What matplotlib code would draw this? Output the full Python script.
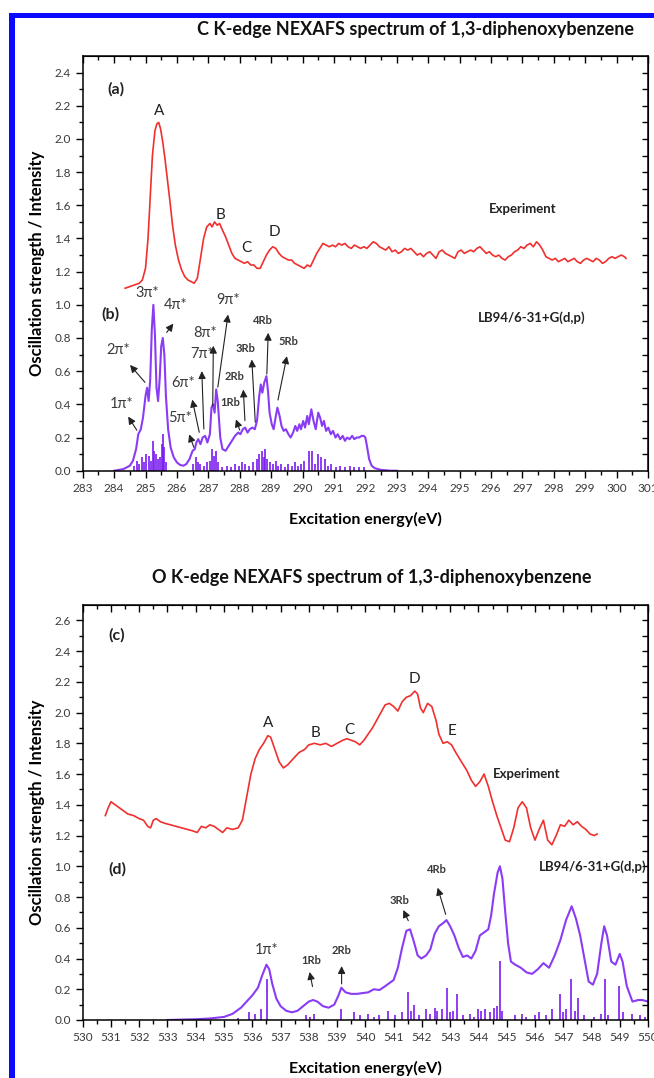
import matplotlib
matplotlib.use("Agg")
import matplotlib.pyplot as plt
import numpy as np
from matplotlib.patches import Rectangle

plt.rcParams['font.family'] = ['Lato', 'DejaVu Sans']

W, H = 654, 1078

# ---------------- C K-edge data ----------------
c_exp = [(284.35, 1.10), (284.5, 1.11), (284.65, 1.12), (284.8, 1.13), (284.9, 1.15), (285.0, 1.22),
         (285.08, 1.40), (285.15, 1.65), (285.22, 1.90), (285.3, 2.05), (285.36, 2.09), (285.42, 2.10),
         (285.48, 2.06), (285.55, 1.98), (285.62, 1.88), (285.7, 1.75), (285.78, 1.62), (285.86, 1.48),
         (285.95, 1.36), (286.05, 1.27), (286.15, 1.21), (286.25, 1.17), (286.35, 1.15), (286.45, 1.14),
         (286.55, 1.13), (286.65, 1.16), (286.75, 1.28), (286.85, 1.40), (286.95, 1.47), (287.05, 1.49),
         (287.12, 1.47), (287.2, 1.50), (287.28, 1.48), (287.36, 1.49), (287.45, 1.45), (287.55, 1.41),
         (287.65, 1.36), (287.75, 1.31), (287.85, 1.28), (287.95, 1.27), (288.05, 1.26), (288.15, 1.25),
         (288.25, 1.26), (288.35, 1.24), (288.45, 1.24), (288.55, 1.22), (288.65, 1.22), (288.75, 1.26),
         (288.85, 1.30), (288.95, 1.33), (289.05, 1.35), (289.15, 1.34), (289.25, 1.31), (289.35, 1.29),
         (289.45, 1.28), (289.55, 1.27), (289.65, 1.27), (289.75, 1.25), (289.85, 1.24), (289.95, 1.23),
         (290.05, 1.22), (290.15, 1.24), (290.25, 1.23), (290.35, 1.27), (290.45, 1.31), (290.55, 1.34),
         (290.65, 1.37), (290.75, 1.36), (290.85, 1.35), (290.95, 1.36), (291.05, 1.35), (291.15, 1.37),
         (291.25, 1.36), (291.35, 1.37), (291.45, 1.35), (291.55, 1.34), (291.65, 1.36), (291.75, 1.35),
         (291.85, 1.34), (291.95, 1.35), (292.05, 1.34), (292.15, 1.36), (292.25, 1.38), (292.35, 1.37),
         (292.45, 1.35), (292.55, 1.34), (292.65, 1.33), (292.75, 1.35), (292.85, 1.32), (292.95, 1.33),
         (293.05, 1.31), (293.15, 1.32), (293.25, 1.34), (293.35, 1.33), (293.45, 1.34), (293.55, 1.32),
         (293.65, 1.30), (293.75, 1.31), (293.85, 1.29), (293.95, 1.31), (294.05, 1.32), (294.15, 1.30),
         (294.25, 1.28), (294.35, 1.32), (294.45, 1.33), (294.55, 1.31), (294.65, 1.30), (294.75, 1.29),
         (294.85, 1.28), (294.95, 1.32), (295.05, 1.33), (295.15, 1.31), (295.25, 1.32), (295.35, 1.33),
         (295.45, 1.32), (295.55, 1.34), (295.65, 1.35), (295.75, 1.33), (295.85, 1.31), (295.95, 1.32),
         (296.05, 1.30), (296.15, 1.29), (296.25, 1.30), (296.35, 1.28), (296.45, 1.27), (296.55, 1.29),
         (296.65, 1.30), (296.75, 1.32), (296.85, 1.33), (296.95, 1.35), (297.05, 1.34), (297.15, 1.36),
         (297.25, 1.37), (297.35, 1.35), (297.45, 1.38), (297.55, 1.36), (297.65, 1.33), (297.75, 1.29),
         (297.85, 1.28), (297.95, 1.27), (298.05, 1.28), (298.15, 1.26), (298.25, 1.27), (298.35, 1.28),
         (298.45, 1.26), (298.55, 1.27), (298.65, 1.28), (298.75, 1.26), (298.85, 1.25), (298.95, 1.27),
         (299.05, 1.28), (299.15, 1.27), (299.25, 1.26), (299.35, 1.28), (299.45, 1.27), (299.55, 1.25),
         (299.65, 1.26), (299.75, 1.28), (299.85, 1.29), (299.95, 1.28), (300.05, 1.29), (300.15, 1.30),
         (300.25, 1.29), (300.3, 1.28)]

c_calc = [(284.0, 0.0), (284.3, 0.01), (284.5, 0.03), (284.6, 0.06), (284.7, 0.13), (284.77, 0.22),
          (284.85, 0.25), (284.92, 0.32), (285.0, 0.45), (285.05, 0.50), (285.1, 0.42), (285.15, 0.55),
          (285.2, 0.85), (285.25, 1.0), (285.3, 0.82), (285.35, 0.50), (285.4, 0.42), (285.45, 0.55),
          (285.5, 0.75), (285.55, 0.80), (285.6, 0.70), (285.65, 0.45), (285.72, 0.25), (285.8, 0.14),
          (285.9, 0.08), (286.0, 0.05), (286.1, 0.035), (286.2, 0.03), (286.3, 0.04), (286.4, 0.07),
          (286.5, 0.12), (286.57, 0.13), (286.62, 0.17), (286.68, 0.19), (286.75, 0.16), (286.82, 0.20),
          (286.9, 0.21), (286.97, 0.17), (287.05, 0.22), (287.1, 0.38), (287.15, 0.40), (287.2, 0.35),
          (287.25, 0.49), (287.3, 0.42), (287.38, 0.20), (287.45, 0.13), (287.55, 0.12), (287.65, 0.15),
          (287.75, 0.18), (287.85, 0.21), (287.95, 0.23), (288.02, 0.22), (288.1, 0.25), (288.17, 0.26),
          (288.25, 0.23), (288.32, 0.25), (288.4, 0.26), (288.48, 0.25), (288.55, 0.30), (288.62, 0.45),
          (288.67, 0.52), (288.72, 0.47), (288.78, 0.53), (288.85, 0.57), (288.9, 0.48), (288.95, 0.35),
          (289.02, 0.28), (289.08, 0.25), (289.15, 0.33), (289.2, 0.38), (289.27, 0.33), (289.33, 0.27),
          (289.4, 0.24), (289.47, 0.25), (289.55, 0.22), (289.62, 0.20), (289.7, 0.23), (289.77, 0.27),
          (289.83, 0.24), (289.9, 0.28), (289.95, 0.25), (290.02, 0.30), (290.08, 0.26), (290.15, 0.33),
          (290.2, 0.28), (290.28, 0.37), (290.35, 0.30), (290.42, 0.25), (290.5, 0.35), (290.56, 0.32),
          (290.62, 0.27), (290.68, 0.30), (290.75, 0.24), (290.82, 0.26), (290.9, 0.22), (290.97, 0.24),
          (291.05, 0.20), (291.12, 0.22), (291.2, 0.19), (291.28, 0.21), (291.35, 0.18), (291.42, 0.20),
          (291.5, 0.19), (291.58, 0.21), (291.65, 0.19), (291.72, 0.20), (291.8, 0.20), (291.88, 0.21),
          (291.95, 0.21), (292.0, 0.20), (292.05, 0.15), (292.12, 0.07), (292.2, 0.03), (292.3, 0.015),
          (292.5, 0.005), (292.8, 0.0), (293.0, 0.0)]

c_sticks = [(284.62, 0.03), (284.72, 0.06), (284.8, 0.04), (284.88, 0.08), (284.95, 0.05), (285.02, 0.10),
            (285.1, 0.09), (285.17, 0.06), (285.25, 0.18), (285.28, 0.12), (285.33, 0.10), (285.4, 0.07),
            (285.47, 0.08), (285.52, 0.16), (285.56, 0.22), (285.6, 0.14), (285.66, 0.05), (286.52, 0.04),
            (286.6, 0.08), (286.67, 0.05), (286.75, 0.04), (286.85, 0.03), (286.95, 0.05), (287.05, 0.06),
            (287.12, 0.13), (287.18, 0.09), (287.25, 0.12), (287.3, 0.05), (287.45, 0.02), (287.6, 0.03),
            (287.72, 0.02), (287.85, 0.04), (287.98, 0.03), (288.08, 0.05), (288.18, 0.04), (288.3, 0.03),
            (288.42, 0.05), (288.55, 0.07), (288.62, 0.10), (288.7, 0.12), (288.76, 0.08), (288.82, 0.13),
            (288.88, 0.07), (288.95, 0.05), (289.05, 0.04), (289.15, 0.06), (289.22, 0.03), (289.32, 0.04),
            (289.45, 0.02), (289.55, 0.04), (289.65, 0.03), (289.75, 0.05), (289.85, 0.03), (289.95, 0.04),
            (290.05, 0.06), (290.2, 0.12), (290.3, 0.12), (290.4, 0.04), (290.5, 0.10), (290.58, 0.08),
            (290.7, 0.07), (290.8, 0.03), (290.9, 0.04), (291.05, 0.02), (291.2, 0.03), (291.35, 0.02),
            (291.5, 0.03), (291.65, 0.02), (291.8, 0.02), (291.95, 0.02)]

# label, label position, arrow tail (on curve), arrow head (None = no arrow)
c_marks = [("1π*", (284.24, 0.40), (284.77, 0.23), (284.40, 0.34)),
           ("2π*", (284.13, 0.73), (285.04, 0.52), (284.45, 0.65)),
           ("3π*", (285.04, 1.07), None, None),
           ("4π*", (285.97, 1.00), (285.62, 0.82), (285.94, 0.90)),
           ("5π*", (286.10, 0.315), (286.57, 0.125), (286.36, 0.235)),
           ("6π*", (286.20, 0.53), (286.73, 0.215), (286.47, 0.445)),
           ("7π*", (286.79, 0.705), (286.86, 0.235), (286.79, 0.617)),
           ("8π*", (286.90, 0.83), (287.14, 0.375), (287.16, 0.77)),
           ("9π*", (287.63, 1.03), (287.29, 0.487), (287.64, 0.958))]
c_rb = [("1Rb", (287.70, 0.41), (288.03, 0.229), (287.85, 0.325)),
        ("2Rb", (287.85, 0.566), (288.17, 0.285), (288.11, 0.506)),
        ("3Rb", (288.17, 0.737), (288.50, 0.275), (288.38, 0.687)),
        ("4Rb", (288.75, 0.904), (288.86, 0.566), (288.91, 0.848)),
        ("5Rb", (289.55, 0.777), (289.20, 0.41), (289.52, 0.707))]
c_peaks = [("A", 285.44, 2.17), ("B", 287.40, 1.54), ("C", 288.20, 1.34), ("D", 289.12, 1.44)]

# ---------------- O K-edge data ----------------
o_exp = [(530.8, 1.33), (530.9, 1.38), (531.0, 1.42), (531.15, 1.40), (531.3, 1.38), (531.45, 1.36),
         (531.6, 1.34), (531.8, 1.33), (532.0, 1.31), (532.15, 1.30), (532.3, 1.26), (532.4, 1.25),
         (532.5, 1.30), (532.6, 1.31), (532.75, 1.29), (532.9, 1.28), (533.1, 1.27), (533.3, 1.26),
         (533.5, 1.25), (533.7, 1.24), (533.9, 1.23), (534.05, 1.22), (534.2, 1.26), (534.35, 1.25),
         (534.5, 1.27), (534.65, 1.26), (534.8, 1.24), (534.95, 1.22), (535.1, 1.25), (535.3, 1.24),
         (535.5, 1.25), (535.65, 1.30), (535.8, 1.45), (535.95, 1.60), (536.1, 1.70), (536.25, 1.76),
         (536.4, 1.80), (536.55, 1.85), (536.65, 1.84), (536.8, 1.76), (536.95, 1.68), (537.1, 1.64),
         (537.25, 1.66), (537.45, 1.70), (537.65, 1.74), (537.85, 1.76), (538.0, 1.79), (538.2, 1.80),
         (538.4, 1.79), (538.6, 1.80), (538.8, 1.78), (539.0, 1.80), (539.2, 1.82), (539.35, 1.83),
         (539.5, 1.82), (539.65, 1.81), (539.8, 1.79), (539.95, 1.82), (540.1, 1.86), (540.25, 1.90),
         (540.4, 1.95), (540.55, 2.00), (540.7, 2.05), (540.85, 2.06), (541.0, 2.04), (541.15, 2.01),
         (541.3, 2.07), (541.45, 2.10), (541.6, 2.11), (541.75, 2.14), (541.85, 2.12), (541.95, 2.03),
         (542.05, 2.00), (542.2, 2.06), (542.35, 2.04), (542.5, 1.95), (542.6, 1.86), (542.75, 1.80),
         (542.9, 1.81), (543.05, 1.79), (543.2, 1.74), (543.4, 1.68), (543.6, 1.62), (543.75, 1.56),
         (543.9, 1.52), (544.05, 1.55), (544.2, 1.60), (544.35, 1.52), (544.5, 1.42), (544.65, 1.33),
         (544.8, 1.25), (544.95, 1.17), (545.1, 1.16), (545.25, 1.25), (545.4, 1.38), (545.55, 1.42),
         (545.7, 1.38), (545.85, 1.25), (546.0, 1.17), (546.15, 1.24), (546.3, 1.30), (546.45, 1.17),
         (546.6, 1.14), (546.75, 1.20), (546.9, 1.27), (547.05, 1.26), (547.2, 1.30), (547.35, 1.27),
         (547.5, 1.29), (547.65, 1.26), (547.8, 1.24), (547.95, 1.21), (548.1, 1.20), (548.2, 1.21)]

o_calc = [(533.0, 0.0), (534.0, 0.005), (534.5, 0.01), (535.0, 0.02), (535.3, 0.04), (535.6, 0.08),
          (535.8, 0.12), (536.0, 0.16), (536.2, 0.21), (536.35, 0.29), (536.5, 0.36), (536.6, 0.33),
          (536.7, 0.24), (536.85, 0.14), (537.0, 0.09), (537.2, 0.06), (537.4, 0.05), (537.6, 0.06),
          (537.8, 0.09), (538.0, 0.12), (538.15, 0.13), (538.3, 0.12), (538.5, 0.09), (538.7, 0.08),
          (538.9, 0.10), (539.05, 0.16), (539.15, 0.21), (539.3, 0.18), (539.5, 0.17), (539.7, 0.17),
          (539.9, 0.175), (540.1, 0.18), (540.3, 0.20), (540.5, 0.195), (540.7, 0.22), (540.85, 0.24),
          (541.0, 0.26), (541.15, 0.34), (541.3, 0.47), (541.45, 0.58), (541.58, 0.59), (541.7, 0.52),
          (541.85, 0.42), (541.98, 0.40), (542.15, 0.42), (542.3, 0.46), (542.45, 0.56), (542.6, 0.61),
          (542.75, 0.63), (542.87, 0.65), (543.0, 0.61), (543.15, 0.55), (543.3, 0.47), (543.45, 0.41),
          (543.6, 0.42), (543.75, 0.40), (543.9, 0.45), (544.05, 0.55), (544.2, 0.57), (544.35, 0.59),
          (544.45, 0.68), (544.55, 0.82), (544.68, 0.96), (544.76, 1.0), (544.85, 0.92), (544.95, 0.70),
          (545.05, 0.50), (545.15, 0.38), (545.3, 0.36), (545.5, 0.34), (545.7, 0.31), (545.9, 0.30),
          (546.1, 0.33), (546.3, 0.37), (546.5, 0.34), (546.7, 0.42), (546.9, 0.52), (547.1, 0.65),
          (547.3, 0.74), (547.45, 0.66), (547.6, 0.55), (547.75, 0.40), (547.9, 0.25), (548.05, 0.23),
          (548.2, 0.30), (548.35, 0.50), (548.45, 0.61), (548.55, 0.55), (548.7, 0.38), (548.85, 0.36),
          (549.0, 0.43), (549.1, 0.38), (549.25, 0.22), (549.45, 0.12), (549.65, 0.13), (549.8, 0.13),
          (550.0, 0.12)]

o_sticks = [(535.5, 0.01), (535.9, 0.05), (536.1, 0.04), (536.3, 0.07), (536.52, 0.27), (537.9, 0.03),
            (538.05, 0.02), (538.2, 0.04), (539.15, 0.07), (539.6, 0.05), (539.8, 0.03), (540.1, 0.04),
            (540.3, 0.02), (540.5, 0.03), (540.8, 0.06), (541.05, 0.03), (541.3, 0.05), (541.5, 0.18),
            (541.6, 0.06), (541.72, 0.10), (541.9, 0.03), (542.15, 0.07), (542.3, 0.04), (542.45, 0.08),
            (542.55, 0.06), (542.7, 0.07), (542.88, 0.21), (543.0, 0.05), (543.1, 0.06), (543.25, 0.17),
            (543.45, 0.03), (543.7, 0.04), (543.85, 0.02), (544.0, 0.07), (544.1, 0.06), (544.25, 0.07),
            (544.4, 0.05), (544.55, 0.08), (544.65, 0.09), (544.76, 0.385), (544.85, 0.06), (545.3, 0.03),
            (545.55, 0.04), (545.7, 0.02), (546.0, 0.03), (546.15, 0.05), (546.4, 0.03), (546.6, 0.07),
            (546.88, 0.17), (547.0, 0.05), (547.1, 0.07), (547.28, 0.27), (547.42, 0.06), (547.52, 0.14),
            (547.75, 0.03), (548.1, 0.02), (548.35, 0.04), (548.48, 0.265), (548.6, 0.03), (548.98, 0.22),
            (549.1, 0.05), (549.45, 0.04), (549.7, 0.03), (549.9, 0.02)]

o_marks = [("1π*", (536.50, 0.455), None, None)]
o_rb = [("1Rb", (538.10, 0.39), (538.15, 0.20), (538.01, 0.33)),
        ("2Rb", (539.16, 0.455), (539.16, 0.217), (539.16, 0.369)),
        ("3Rb", (541.20, 0.78), (541.56, 0.63), (541.30, 0.732)),
        ("4Rb", (542.53, 0.98), (542.87, 0.67), (542.53, 0.878))]
o_peaks = [("A", 536.55, 1.93), ("B", 538.25, 1.87), ("C", 539.45, 1.89), ("D", 541.75, 2.22), ("E", 543.05, 1.88)]

RED = '#f0302e'
PURPLE = '#8a3cf5'
STICK = '#7a1cf0'
TXT = '#3a3a3a'


def frac(x0, y0, x1, y1):
    return [x0 / W, 1 - y1 / H, (x1 - x0) / W, (y1 - y0) / H]


def setup_axes(ax, xmin, xmax, ymax, ylabels):
    ax.set_xlim(xmin, xmax)
    ax.set_ylim(0, ymax)
    ax.set_xticks(np.arange(xmin, xmax + 1, 1))
    ax.set_xticks(np.arange(xmin, xmax, 0.5), minor=True)
    ax.set_yticks(np.arange(0, ylabels + 0.01, 0.2))
    ax.set_yticks(np.arange(0, ymax, 0.1), minor=True)
    ax.set_xticklabels([str(int(v)) for v in np.arange(xmin, xmax + 1, 1)])
    ax.set_yticklabels(["%.1f" % v for v in np.arange(0, ylabels + 0.01, 0.2)])
    ax.tick_params(which='both', direction='out', width=1.0, labelsize=8.5, labelcolor=TXT)
    ax.tick_params(which='major', length=5)
    ax.tick_params(which='minor', length=3)
    for s in ax.spines.values():
        s.set_linewidth(1.1)
    top = ax.secondary_xaxis('top')
    top.set_xticks(np.arange(xmin, xmax + 1, 1))
    top.set_xticks(np.arange(xmin, xmax, 0.5), minor=True)
    top.tick_params(which='both', direction='in', labeltop=False, width=1.0)
    top.tick_params(which='major', length=5)
    top.tick_params(which='minor', length=3)
    right = ax.secondary_yaxis('right')
    right.set_yticks(np.arange(0.1, ymax, 0.1))
    right.tick_params(direction='in', labelright=False, length=4, width=1.0)
    ax.set_xlabel("Excitation energy(eV)", fontsize=11.5, fontweight='bold', labelpad=13)
    ax.set_ylabel("Oscillation strength / Intensity", fontsize=12, fontweight='bold', labelpad=7)


def draw_panel(ax, exp, calc, sticks, marks, rb, peaks):
    e, v = np.array(exp).T
    ax.plot(e, v, color=RED, lw=1.2)
    e, v = np.array(calc).T
    ax.plot(e, v, color=PURPLE, lw=1.5)
    e, v = np.array(sticks).T
    ax.vlines(e, 0, v, color=STICK, lw=1.2)
    arrow = dict(arrowstyle='-|>', color='#222222', lw=0.8, mutation_scale=11)
    for lab, pos, tail, head in marks:
        ax.text(pos[0], pos[1], lab, fontsize=10.5, color=TXT, ha='center', va='center')
        if tail is not None:
            ax.annotate('', xy=head, xytext=tail, arrowprops=arrow)
    for lab, pos, tail, head in rb:
        ax.text(pos[0], pos[1], lab, fontsize=8, color=TXT, fontweight='bold', ha='center', va='center')
        ax.annotate('', xy=head, xytext=tail, arrowprops=arrow)
    for lab, x, y in peaks:
        ax.text(x, y, lab, fontsize=11, color='#222222', ha='center', va='center')


fig = plt.figure(figsize=(W / 100, H / 100), dpi=100)

ax1 = fig.add_axes(frac(82.7, 56, 648, 470.7))
setup_axes(ax1, 283, 301, 2.5, 2.4)
draw_panel(ax1, c_exp, c_calc, c_sticks, c_marks, c_rb, c_peaks)
ax1.text(283.8, 2.30, "(a)", fontsize=11.5, fontweight='bold', color='#222222', va='center')
ax1.text(283.6, 0.94, "(b)", fontsize=11.5, fontweight='bold', color='#222222', va='center')
ax1.text(297.0, 1.58, "Experiment", fontsize=9.5, fontweight='bold', color='#222222', ha='center', va='center')
ax1.text(297.3, 0.92, "LB94/6-31+G(d,p)", fontsize=9.5, fontweight='bold', color='#222222', ha='center', va='center')

ax2 = fig.add_axes(frac(82.7, 605, 648, 1020))
setup_axes(ax2, 530, 550, 2.7, 2.6)
draw_panel(ax2, o_exp, o_calc, o_sticks, o_marks, o_rb, o_peaks)
ax2.text(530.9, 2.50, "(c)", fontsize=11.5, fontweight='bold', color='#222222', va='center')
ax2.text(530.9, 0.98, "(d)", fontsize=11.5, fontweight='bold', color='#222222', va='center')
ax2.text(545.7, 1.60, "Experiment", fontsize=9.5, fontweight='bold', color='#222222', ha='center', va='center')
ax2.text(549.95, 1.0, "LB94/6-31+G(d,p)", fontsize=9.5, fontweight='bold', color='#222222', ha='right', va='center')

fig.text(415 / W, 1 - 30 / H, "C K-edge NEXAFS spectrum of 1,3-diphenoxybenzene",
         fontsize=13, fontweight='bold', ha='center', va='center', color='#111111')
fig.text(372 / W, 1 - 578 / H, "O K-edge NEXAFS spectrum of 1,3-diphenoxybenzene",
         fontsize=13, fontweight='bold', ha='center', va='center', color='#111111')

# blue frame on the left and top
fig.add_artist(Rectangle((9 / W, 0), 6 / W, 1 - 13 / H, transform=fig.transFigure, color='#0a0aff', lw=0))
fig.add_artist(Rectangle((9 / W, 1 - 18 / H), 1, 5 / H, transform=fig.transFigure, color='#0a0aff', lw=0))

fig.savefig("out.png", dpi=100)
